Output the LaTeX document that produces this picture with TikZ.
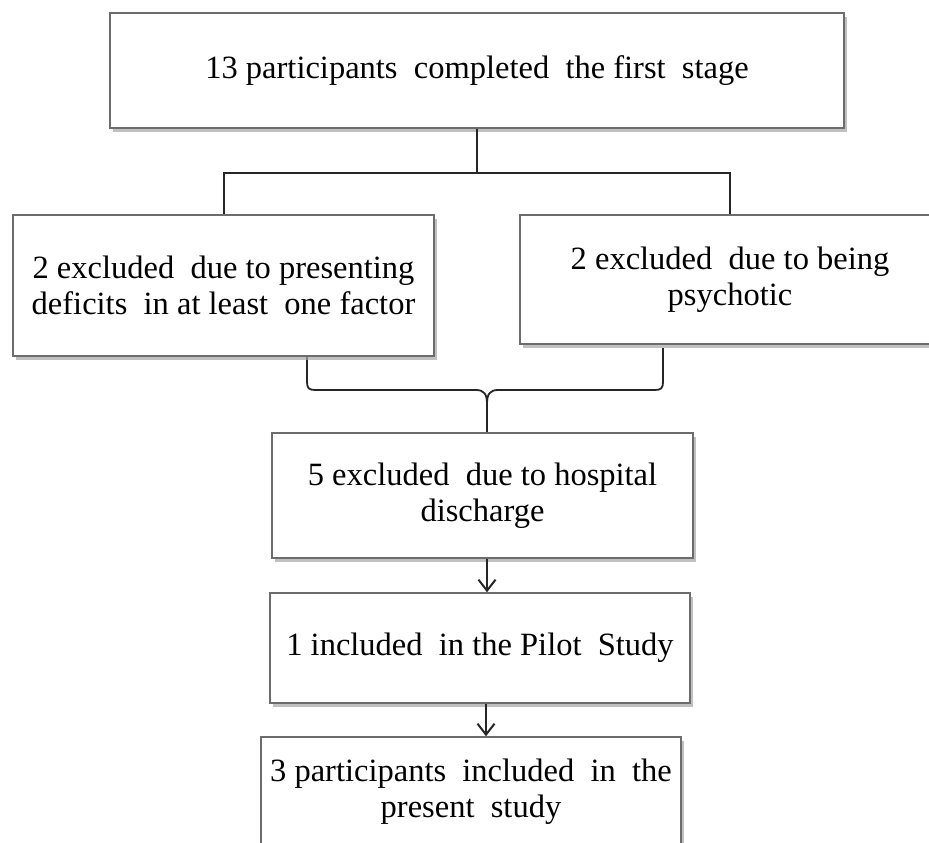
\documentclass[tikz,border=0pt]{standalone}
\usepackage{fontspec}
\setmainfont{Liberation Serif}
\usetikzlibrary{arrows.meta,shadows,calc}
\begin{document}
\begin{tikzpicture}[x=1pt,y=-1pt,
  box/.style={draw=gray!85!black, line width=1.4pt, fill=white, align=center, inner sep=0pt,
    font=\fontsize{32.5}{36}\selectfont,
    drop shadow={shadow xshift=3pt, shadow yshift=-4pt, fill=gray!70, opacity=0.7}},
  link/.style={line width=2pt, draw=black!85},
  arr/.style={link, -{Straight Barb[length=11pt,width=17pt,line width=2pt]}}]
\fill[white] (0,0) rectangle (929,843);
\clip (0,0) rectangle (929,843);

% brace connector (drawn first, boxes cover its ends)
\coordinate (bl) at (307,348);
\coordinate (br) at (663,348);
\coordinate (bc) at (487,433);
\draw[link, line width=1.8pt] (bl) -- (307,382) .. controls (307,388) and (309,390) .. (315,390)
  -- (476,390) .. controls (484,390) and (487,394) .. (487,404) -- (bc);
\draw[link, line width=1.8pt] (br) -- (663,382) .. controls (663,388) and (661,390) .. (655,390)
  -- (498,390) .. controls (490,390) and (487,394) .. (487,404);

\node[box, minimum width=734pt, minimum height=115pt] (T) at (477,70.5)
  {13 participants\ \ completed\ \ the first\ \ stage};
\node[box, minimum width=421pt, minimum height=141pt] (L) at (223.5,285.5)
  {2 excluded\ \ due to presenting\\deficits\ \ in at least\ \ one factor};
\node[box, minimum width=420pt, minimum height=129pt] (R) at (730,279.5)
  {2 excluded\ \ due to being\\psychotic};
\node[box, minimum width=421pt, minimum height=125pt] (H) at (482.5,495.5)
  {5 excluded\ \ due to hospital\\discharge};
\node[box, minimum width=420pt, minimum height=110pt] (P) at (480,648)
  {1 included\ \ in the Pilot\ \ Study};
\node[box, minimum width=420pt, minimum height=109pt] (S) at (471,791.5)
  {3 participants\ \ included\ \ in\ \ the\\present\ \ study};

% tree connector from top box
\draw[link] (T.south) -- ++(0,44) coordinate (tj);
\draw[link] (tj) -| (L.north);
\draw[link] (tj) -| (R.north);

% arrows
\draw[arr] (H.south -| bc) -- (P.north -| bc);
\draw[arr] ($(P.south)+(6,0)$) -- ($(S.north)+(15,0)$);
\end{tikzpicture}
\end{document}
